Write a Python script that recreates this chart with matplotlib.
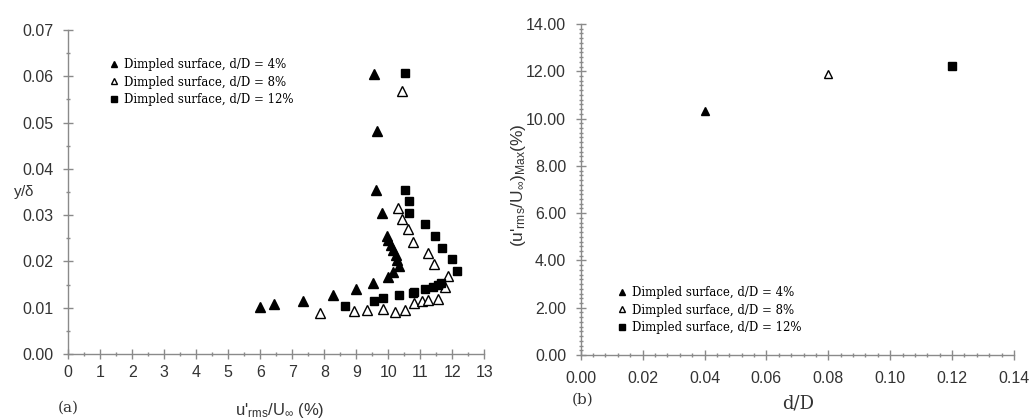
import matplotlib
matplotlib.use("Agg")
import matplotlib.pyplot as plt
from matplotlib.ticker import MultipleLocator, FormatStrFormatter

plt.rcParams['font.family'] = ['Liberation Sans', 'DejaVu Sans']
plt.rcParams['mathtext.fontset'] = 'custom'
plt.rcParams['mathtext.rm'] = 'Liberation Sans'
plt.rcParams['mathtext.default'] = 'rm'

# (a) profiles of u'rms/U_inf against y/delta
u4 = [6.0, 6.43, 7.32, 8.26, 8.99, 9.53, 10.0, 10.16, 10.34, 10.26, 10.24, 10.16,
      10.07, 10.0, 9.95, 9.79, 9.62, 9.66, 9.55]
y4 = [0.0102, 0.0107, 0.0114, 0.0127, 0.0141, 0.0153, 0.0166, 0.0178, 0.0190, 0.0203,
      0.0214, 0.0225, 0.0235, 0.0246, 0.0256, 0.0304, 0.0354, 0.0482, 0.0606]

u8 = [7.87, 8.93, 9.35, 9.83, 10.2, 10.52, 10.8, 11.04, 11.25, 11.56, 11.77, 11.88,
      11.43, 11.25, 10.78, 10.62, 10.42, 10.31, 10.44]
y8 = [0.0088, 0.0093, 0.0095, 0.0097, 0.0091, 0.0095, 0.0111, 0.0115, 0.0117, 0.0118,
      0.0145, 0.0168, 0.0194, 0.0219, 0.0243, 0.0270, 0.0292, 0.0316, 0.0568]

u12 = [8.65, 9.54, 9.83, 10.34, 10.76, 10.8, 11.15, 11.41, 11.56, 11.64, 12.14, 11.98,
       11.67, 11.46, 11.16, 10.66, 10.64, 10.52, 10.52]
y12 = [0.0104, 0.0114, 0.0120, 0.0127, 0.0131, 0.0134, 0.0140, 0.0144, 0.0150, 0.0154,
       0.0180, 0.0205, 0.0230, 0.0256, 0.0281, 0.0305, 0.0330, 0.0354, 0.0608]

# (b) peak intensity against dimple depth
dD = [0.04, 0.08, 0.12]
umax = [10.33, 11.87, 12.21]

labels = ["Dimpled surface, d/D = 4%", "Dimpled surface, d/D = 8%",
          "Dimpled surface, d/D = 12%"]

styles = [dict(marker='^', mfc='black', mec='black'),
          dict(marker='^', mfc='white', mec='black', mew=1.0),
          dict(marker='s', mfc='black', mec='black')]

W, H = 1032, 420
fig = plt.figure(figsize=(W / 100, H / 100), dpi=100)

def px_axes(x0, y0, x1, y1):
    return fig.add_axes([x0 / W, 1 - y1 / H, (x1 - x0) / W, (y1 - y0) / H])

axc = '#8a8a8a'
txc = '#333333'

def style_axes(ax, xpad, ypad):
    for s in ['top', 'right']:
        ax.spines[s].set_visible(False)
    for s in ['left', 'bottom']:
        ax.spines[s].set_color(axc)
        ax.spines[s].set_linewidth(1.0)
    ax.tick_params(which='major', direction='inout', length=7, width=1, color=axc,
                   labelsize=11.5, labelcolor=txc)
    ax.tick_params(which='minor', direction='inout', length=3.5, width=1, color=axc)
    ax.tick_params(axis='x', which='major', pad=xpad)
    ax.tick_params(axis='y', which='major', pad=ypad)

serif = ['DejaVu Serif', 'Liberation Serif']

# ---- panel (a)
ax1 = px_axes(68.3, 30, 484.3, 354)
for (u, y), lab, st in zip([(u4, y4), (u8, y8), (u12, y12)], labels, styles):
    ms = 6.0 if st['marker'] == 's' else 6.8
    ax1.plot(u, y, linestyle='none', ms=ms, label=lab, **st)
ax1.set_xlim(0, 13)
ax1.set_ylim(0, 0.07)
ax1.xaxis.set_major_locator(MultipleLocator(1))
ax1.xaxis.set_minor_locator(MultipleLocator(0.5))
ax1.yaxis.set_major_locator(MultipleLocator(0.01))
ax1.yaxis.set_minor_locator(MultipleLocator(0.005))
ax1.yaxis.set_major_formatter(FormatStrFormatter('%.2f'))
style_axes(ax1, 4.5, 7)
ax1.legend(loc='upper left', bbox_to_anchor=(103 / W, 1 - 52 / H),
           bbox_transform=fig.transFigure, frameon=False, markerscale=0.72,
           handlelength=0.8, handletextpad=0.5, borderpad=0, labelspacing=0.4,
           prop={'family': serif, 'size': 8.5})

fig.text(13 / W, 1 - 192 / H, r'y/$\delta$', fontsize=11, color=txc,
         ha='left', va='center')
fig.text(280 / W, 1 - 410 / H, r"u'$_{\rm rms}$/U$_{\infty}$ (%)", fontsize=12,
         color=txc, ha='center', va='center')
fig.text(68 / W, 1 - 408 / H, '(a)', fontsize=11, family=serif, color=txc,
         ha='center', va='center')

# ---- panel (b)
ax2 = px_axes(580.7, 24, 1014, 355)
for x, y, lab, st in zip(dD, umax, labels, styles):
    ms = 5.2 if st['marker'] == 's' else 6.0
    ax2.plot([x], [y], linestyle='none', ms=ms, label=lab, **st)
ax2.set_xlim(0, 0.14)
ax2.set_ylim(0, 14)
ax2.xaxis.set_major_locator(MultipleLocator(0.02))
ax2.xaxis.set_minor_locator(MultipleLocator(0.004))
ax2.yaxis.set_major_locator(MultipleLocator(2))
ax2.yaxis.set_minor_locator(MultipleLocator(0.2))
ax2.xaxis.set_major_formatter(FormatStrFormatter('%.2f'))
ax2.yaxis.set_major_formatter(FormatStrFormatter('%.2f'))
style_axes(ax2, 8, 7)
ax2.legend(loc='upper left', bbox_to_anchor=(611 / W, 1 - 280 / H),
           bbox_transform=fig.transFigure, frameon=False, markerscale=0.8,
           handlelength=0.8, handletextpad=0.5, borderpad=0, labelspacing=0.4,
           prop={'family': serif, 'size': 8.5})

fig.text(518 / W, 1 - 185 / H, r"(u'$_{\rm rms}$/U$_{\infty}$)$_{\rm Max}$(%)",
         fontsize=12.5, color=txc, rotation=90, ha='center', va='center')
fig.text(798 / W, 1 - 403 / H, 'd/D', fontsize=13, family=serif, color=txc,
         ha='center', va='center')
fig.text(583 / W, 1 - 400 / H, '(b)', fontsize=11, family=serif, color=txc,
         ha='center', va='center')

fig.savefig('out.png', dpi=100)
